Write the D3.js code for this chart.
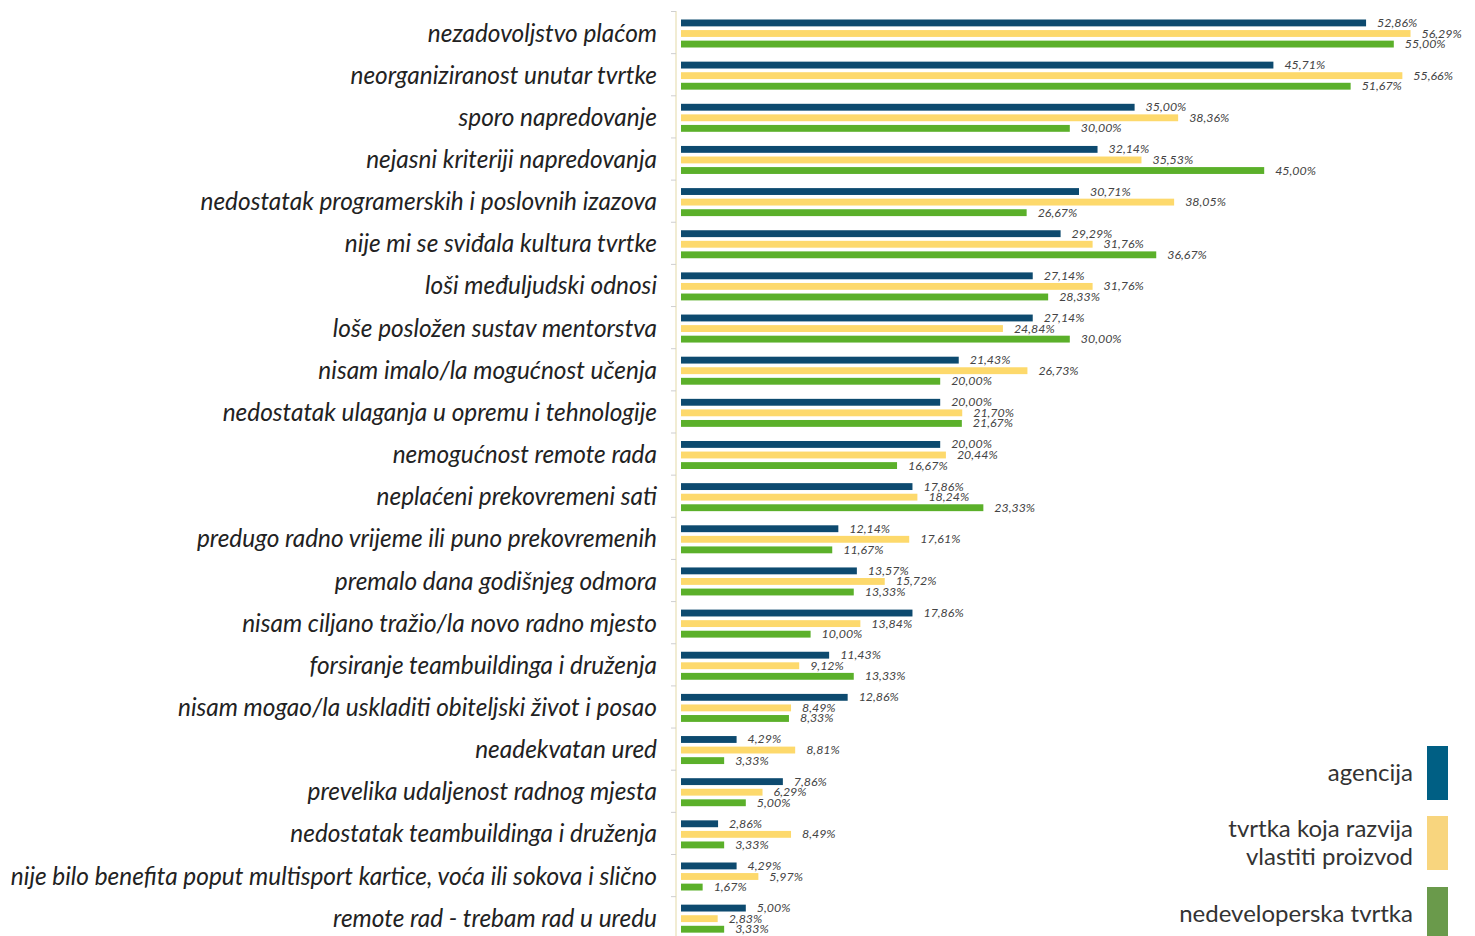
<!DOCTYPE html>
<html>
<head>
<meta charset="utf-8">
<script src="https://cdn.jsdelivr.net/npm/d3@7"></script>
<style>
  body { margin: 0; background: #fff; }
  svg { display: block; }
</style>
</head>
<body>
<script>
// razlozi odlaska iz tvrtke, po tipu tvrtke
const categories = [
  "nezadovoljstvo plaćom",
  "neorganiziranost unutar tvrtke",
  "sporo napredovanje",
  "nejasni kriteriji napredovanja",
  "nedostatak programerskih i poslovnih izazova",
  "nije mi se sviđala kultura tvrtke",
  "loši međuljudski odnosi",
  "loše posložen sustav mentorstva",
  "nisam imalo/la mogućnost učenja",
  "nedostatak ulaganja u opremu i tehnologije",
  "nemogućnost remote rada",
  "neplaćeni prekovremeni sati",
  "predugo radno vrijeme ili puno prekovremenih",
  "premalo dana godišnjeg odmora",
  "nisam ciljano tražio/la novo radno mjesto",
  "forsiranje teambuildinga i druženja",
  "nisam mogao/la uskladiti obiteljski život i posao",
  "neadekvatan ured",
  "prevelika udaljenost radnog mjesta",
  "nedostatak teambuildinga i druženja",
  "nije bilo benefita poput multisport kartice, voća ili sokova i slično",
  "remote rad - trebam rad u uredu"
];

const agencija = [52.86, 45.71, 35.00, 32.14, 30.71, 29.29, 27.14, 27.14, 21.43, 20.00, 20.00,
  17.86, 12.14, 13.57, 17.86, 11.43, 12.86, 4.29, 7.86, 2.86, 4.29, 5.00];
const proizvod = [56.29, 55.66, 38.36, 35.53, 38.05, 31.76, 31.76, 24.84, 26.73, 21.70, 20.44,
  18.24, 17.61, 15.72, 13.84, 9.12, 8.49, 8.81, 6.29, 8.49, 5.97, 2.83];
const nedeveloperska = [55.00, 51.67, 30.00, 45.00, 26.67, 36.67, 28.33, 30.00, 20.00, 21.67, 16.67,
  23.33, 11.67, 13.33, 10.00, 13.33, 8.33, 3.33, 5.00, 3.33, 1.67, 3.33];

const seriesNames = ["agencija", "tvrtka koja razvija|vlastiti proizvod", "nedeveloperska tvrtka"];
const barColors = ["#0d4a6f", "#fdd96c", "#5bb02a"];
const legendColors = ["#005f84", "#f8d57e", "#6a9a4b"];

const W = 1475, H = 936;
const X0 = 681;

const svg = d3.select("body").append("svg")
    .attr("width", W)
    .attr("height", H);

const x = d3.scaleLinear().domain([0, 60]).range([X0, X0 + 60 * 12.96]);
const y = d3.scaleBand().domain(categories).range([11, 11 + 22 * 42.15]).padding(0);
const sub = d3.scaleBand().domain([0, 1, 2]).range([8.5, 36.5]).paddingInner(0.35);

const fmt = v => d3.format(".2f")(v).replace(".", ",") + "%";

// axis line + ticks
svg.append("line")
    .attr("x1", 676).attr("x2", 676)
    .attr("y1", 11).attr("y2", H)
    .attr("stroke", "#ece6c4").attr("stroke-width", 1.5);

svg.append("g").selectAll("line")
    .data(categories)
    .enter().append("line")
    .attr("x1", 671).attr("x2", 676)
    .attr("y1", d => y(d) + 0.5).attr("y2", d => y(d) + 0.5)
    .attr("stroke", "#cfcfcf");

// category labels
svg.append("g").selectAll("text")
    .data(categories)
    .enter().append("text")
    .attr("x", 657)
    .attr("y", d => y(d) + y.bandwidth() / 2 + 9.5)
    .attr("text-anchor", "end")
    .style("font-family", "Lato, 'Open Sans', sans-serif")
    .style("font-style", "italic")
    .style("font-size", "24.4px")
    .style("fill", "#222")
    .text(d => d);

const rows = categories.map((c, i) => ({ c, vals: [agencija[i], proizvod[i], nedeveloperska[i]] }));

const grp = svg.append("g").selectAll("g")
    .data(rows)
    .enter().append("g")
    .attr("transform", d => `translate(0,${y(d.c)})`);

grp.selectAll("rect")
    .data(d => d.vals)
    .enter().append("rect")
    .attr("x", x(0))
    .attr("y", (v, j) => sub(j))
    .attr("width", v => x(v) - x(0))
    .attr("height", sub.bandwidth())
    .attr("fill", (v, j) => barColors[j]);

grp.selectAll("text")
    .data(d => d.vals)
    .enter().append("text")
    .attr("x", v => x(v) + 11)
    .attr("y", (v, j) => sub(j) + sub.bandwidth() / 2 + 4)
    .style("font-family", "Lato, 'Open Sans', sans-serif")
    .style("font-style", "italic")
    .style("font-size", "12.4px")
    .style("fill", "#444")
    .text(v => fmt(v));

// legend
const legY = [746, 816, 887];
const leg = svg.append("g");
seriesNames.forEach((name, i) => {
    leg.append("rect")
        .attr("x", 1427).attr("y", legY[i])
        .attr("width", 21).attr("height", 54)
        .attr("fill", legendColors[i]);
    const lines = name.split("|");
    const t = leg.append("text")
        .attr("text-anchor", "end")
        .style("font-family", "Lato, 'Open Sans', sans-serif")
        .style("font-size", "24px")
        .style("fill", "#333");
    lines.forEach((ln, k) => {
        t.append("tspan")
            .attr("x", 1413)
            .attr("y", legY[i] + 27 + 8 + (k - (lines.length - 1) / 2) * 28)
            .text(ln);
    });
});
</script>
</body>
</html>
